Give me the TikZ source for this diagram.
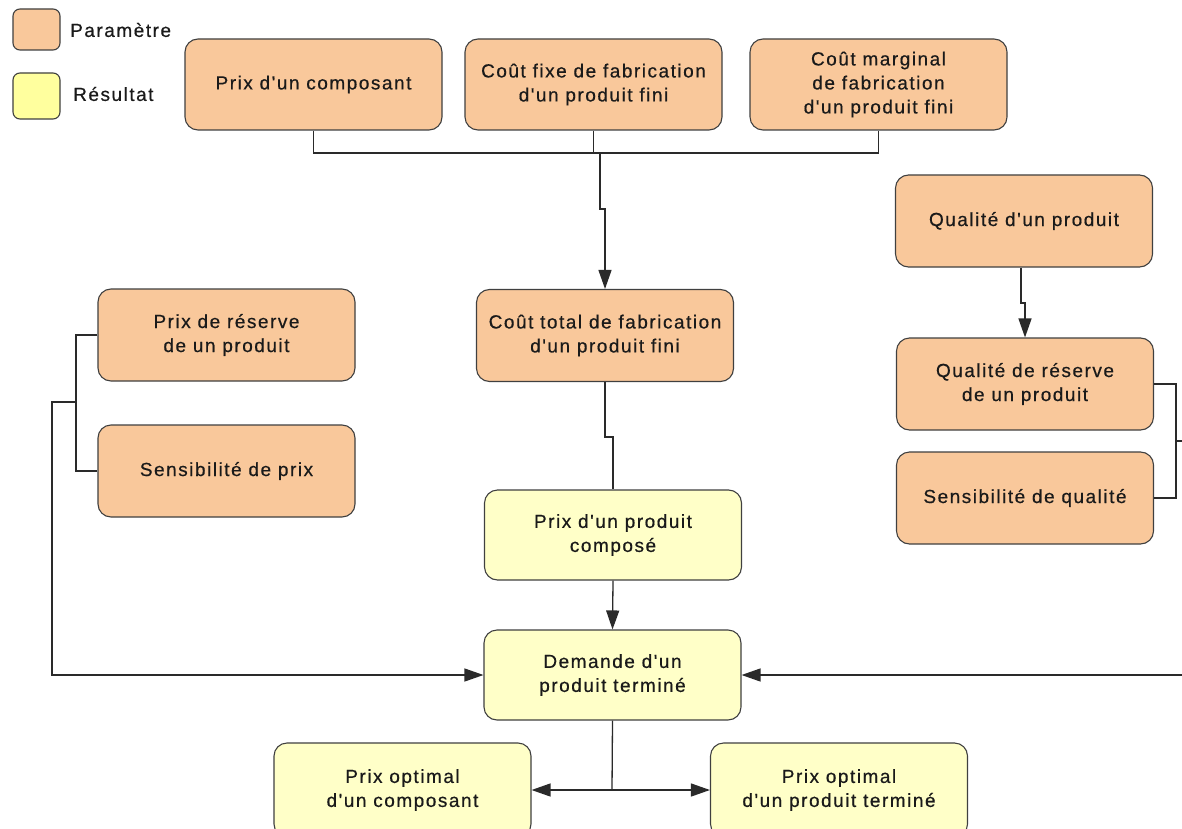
\documentclass[tikz,border=0pt]{standalone}
\usepackage{fontspec}
\usetikzlibrary{arrows.meta}
\newfontfamily\boxfont[LetterSpace=8,FakeBold=0.5]{Liberation Sans}
\definecolor{paramfill}{HTML}{F9C89B}
\definecolor{resfill}{HTML}{FFFFC8}
\definecolor{legyellow}{HTML}{FFFF9E}
\definecolor{boxline}{HTML}{404040}
\definecolor{lineclr}{HTML}{2A2A2A}
\definecolor{txt}{HTML}{1A1A1A}
\tikzset{
  box/.style={draw=boxline, line width=1.1pt, rounded corners=13pt,
    minimum width=257pt, minimum height=92pt, align=center, inner sep=0pt,
    text=txt, font=\boxfont\fontsize{19}{24}\selectfont},
  param/.style={box, fill=paramfill},
  result/.style={box, fill=resfill},
  legsq/.style={draw=boxline, line width=1.1pt, rounded corners=7pt, minimum width=47pt, inner sep=0pt},
  legtext/.style={anchor=west, inner sep=0pt, text=txt, font=\boxfont\fontsize{19}{24}\selectfont},
  conn/.style={draw=lineclr, line width=1.3pt},
  arr/.style={conn, -{Triangle[length=19pt,width=13pt]}},
}
\begin{document}
\begin{tikzpicture}[x=1pt,y=-1pt]
\useasboundingbox (0,0) rectangle (1182,829);
\fill[white] (0,0) rectangle (1182,829);
\clip (0,0) rectangle (1182,829);

% legend
\node[legsq, fill=paramfill, minimum height=41pt] (lp) at (36.5,29.5) {};
\node[legsq, fill=legyellow, minimum height=46pt] (lr) at (36.5,96) {};
\node[legtext] (lpt) at (70,30) {Paramètre};
\node[legtext] (lrt) at (73,94) {Résultat};

% top row
\node[param, minimum height=91pt] (p1) at (313.5,84.5) {Prix d'un composant};
\node[param, minimum height=91pt] (p2) at (593.5,84.5) {Coût fixe de fabrication\\d'un produit fini};
\node[param, minimum height=91pt] (p3) at (878.5,84.5) {Coût marginal\\de fabrication\\d'un produit fini};

% centre column
\node[param] (ct) at (605,335.5) {Coût total de fabrication\\d'un produit fini};
\node[result, minimum height=90pt] (pc) at (613,535) {Prix d'un produit\\composé};
\node[result, minimum height=90pt] (dm) at (612.5,675) {Demande d'un\\produit terminé};
\node[result, minimum height=94pt] (o1) at (402.5,790) {Prix optimal\\d'un composant};
\node[result, minimum height=94pt] (o2) at (839,790) {Prix optimal\\d'un produit terminé};

% left column
\node[param] (pr) at (226.5,335) {Prix de réserve\\de un produit};
\node[param] (sp) at (226.5,471) {Sensibilité de prix};

% right column
\node[param] (qp) at (1024,221) {Qualité d'un produit};
\node[param] (qr) at (1025,384) {Qualité de réserve\\de un produit};
\node[param] (sq) at (1025,498) {Sensibilité de qualité};

% top connectors
\coordinate (h1) at (600,153);
\coordinate (j1) at (600,209);
\draw[conn] (p1.south) -- (p1.south |- h1) -- (p3.south |- h1) -- (p3.south);
\draw[conn] (p2.south) -- (p2.south |- h1);
\draw[arr] (h1) -- (j1) -| (ct.north);

% centre connectors
\coordinate (j2) at (605,437);
\draw[conn] (ct.south) -- (j2) -| (pc.north);
\draw[arr] (pc.south) -- (dm.north);
\coordinate (h3) at (612,790);
\draw[conn] (dm.south) -- (h3);
\draw[arr] (h3) -- (o1.east);
\draw[arr] (h3) -- (o2.west);

% left connectors
\coordinate (lj) at (76,402);
\coordinate (lc) at (52,402);
\draw[conn] (pr.west) -| (lj) |- (sp.west);
\draw[arr] (lj) -- (lc) |- (dm.west);

% right connectors
\coordinate (rj1) at (1021,303);
\draw[arr] (qp.south -| rj1) -- (rj1) -- (rj1 -| qr.north) -- (qr.north);
\coordinate (rj) at (1176,441);
\coordinate (rc) at (1195,441);
\draw[conn] (qr.east) -| (rj) |- (sq.east);
\draw[arr] (rj) -- (rc) |- (dm.east);
\end{tikzpicture}
\end{document}
